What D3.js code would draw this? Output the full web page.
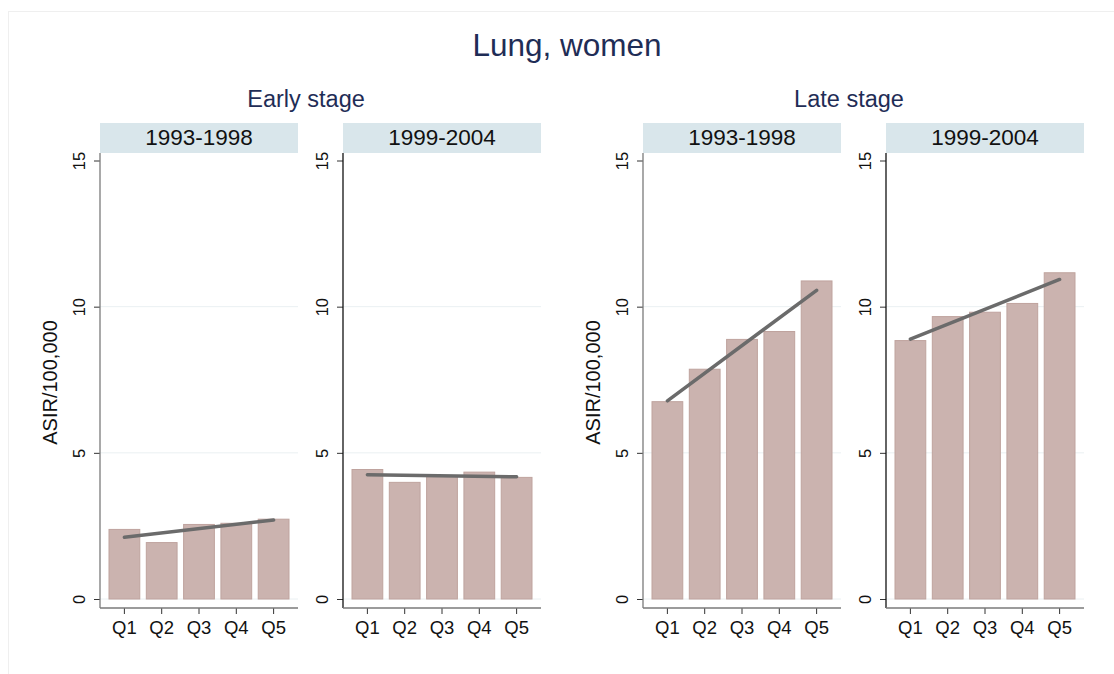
<!DOCTYPE html>
<html>
<head>
<meta charset="utf-8">
<script src="https://cdn.jsdelivr.net/npm/d3@7"></script>
<style>
  body { margin: 0; background: #fff; }
  svg text { font-family: "Liberation Sans", Arial, sans-serif; }
</style>
</head>
<body>
<div class="canvas"></div>
<script>
// data
const quintiles = ['Q1', 'Q2', 'Q3', 'Q4', 'Q5'];
const stages = ['Early stage', 'Late stage'];
const periods = ['1993-1998', '1999-2004'];
const yTicks = [0, 5, 10, 15];

const early9398 = [2.38, 1.93, 2.55, 2.59, 2.73];
const early9904 = [4.43, 3.99, 4.21, 4.34, 4.16];
const late9398 = [6.75, 7.86, 8.88, 9.15, 10.88];
const late9904 = [8.84, 9.66, 9.81, 10.11, 11.16];

// fitted trend, value at Q1 and at Q5
const trendEarly9398 = [2.11, 2.70];
const trendEarly9904 = [4.25, 4.18];
const trendLate9398 = [6.78, 10.56];
const trendLate9904 = [8.89, 10.93];

const panels = [
  { stage: 0, period: 0, values: early9398, trend: trendEarly9398 },
  { stage: 0, period: 1, values: early9904, trend: trendEarly9904 },
  { stage: 1, period: 0, values: late9398, trend: trendLate9398 },
  { stage: 1, period: 1, values: late9904, trend: trendLate9904 },
];

const width = 1114;
const height = 674;

const svg = d3.select('.canvas')
  .append('svg')
  .attr('width', width)
  .attr('height', height);

// faint outer frame
svg.append('rect')
  .attr('x', 8.5)
  .attr('y', 11.5)
  .attr('width', width)
  .attr('height', height)
  .attr('fill', 'none')
  .attr('stroke', '#efefef');

// main title
svg.append('text')
  .attr('x', 567)
  .attr('y', 56)
  .attr('text-anchor', 'middle')
  .attr('font-size', 31.5)
  .attr('fill', '#1f2d56')
  .text('Lung, women');

// stage titles
const stageCenters = [306, 849];
stages.forEach((s, i) => {
  svg.append('text')
    .attr('x', stageCenters[i])
    .attr('y', 107)
    .attr('text-anchor', 'middle')
    .attr('font-size', 23.5)
    .attr('fill', '#1f2d56')
    .text(s);
});

// panel geometry
const panelLeft = [100, 343, 643, 886];
const panelWidth = 198;
const plotTop = 153;
const plotBottom = 608;
const headerHeight = 30;

const y = d3.scaleLinear()
  .domain([0, 15])
  .range([599, 160.5]);

panels.forEach((p, i) => {
  const x0 = panelLeft[i];
  const g = svg.append('g').attr('transform', `translate(${x0}, 0)`);

  const x = d3.scaleBand()
    .domain(quintiles)
    .range([9, 189])
    .paddingInner(0.175)
    .paddingOuter(0);

  // header strip
  g.append('rect')
    .attr('x', 0)
    .attr('y', plotTop - headerHeight)
    .attr('width', panelWidth)
    .attr('height', headerHeight)
    .attr('fill', '#d9e6eb');

  g.append('text')
    .attr('x', panelWidth / 2)
    .attr('y', 144.5)
    .attr('text-anchor', 'middle')
    .attr('font-size', 22.5)
    .attr('fill', '#111')
    .text(periods[p.period]);

  // gridlines
  g.selectAll('line.grid')
    .data(yTicks.filter(t => t < 15))
    .enter()
    .append('line')
    .attr('class', 'grid')
    .attr('x1', 0)
    .attr('x2', panelWidth)
    .attr('y1', d => y(d))
    .attr('y2', d => y(d))
    .attr('stroke', '#eaf0f2')
    .attr('stroke-width', 1);

  // bars
  g.selectAll('rect.bar')
    .data(p.values)
    .enter()
    .append('rect')
    .attr('class', 'bar')
    .attr('x', (d, j) => x(quintiles[j]))
    .attr('width', x.bandwidth())
    .attr('y', d => y(d))
    .attr('height', d => y(0) - y(d))
    .attr('fill', '#cbb3af')
    .attr('stroke', '#bfa39e')
    .attr('stroke-width', 1);

  // trend line
  const ends = [quintiles[0], quintiles[quintiles.length - 1]];
  g.append('path')
    .datum(p.trend)
    .attr('d', d3.line()
      .x((d, j) => x(ends[j]) + x.bandwidth() / 2)
      .y(d => y(d)))
    .attr('fill', 'none')
    .attr('stroke', '#6b6b6b')
    .attr('stroke-width', 3.5)
    .attr('stroke-linecap', 'round');

  // y axis
  const yAxisGroup = g.append('g');
  yAxisGroup.call(d3.axisLeft(y).tickValues(yTicks).tickSize(6).tickSizeOuter(0));
  yAxisGroup.select('.domain').remove();
  yAxisGroup.selectAll('.tick line').attr('stroke', '#333');
  yAxisGroup.selectAll('text')
    .attr('x', 0)
    .attr('y', 0)
    .attr('dy', null)
    .attr('transform', 'translate(-15, 0) rotate(-90)')
    .attr('text-anchor', 'middle')
    .attr('font-size', 16.5)
    .attr('font-family', '"Liberation Sans", Arial, sans-serif')
    .attr('fill', '#111');

  g.append('line')
    .attr('x1', 0).attr('x2', 0)
    .attr('y1', plotTop).attr('y2', plotBottom)
    .attr('stroke', p.period === 0 ? '#7a7a7a' : '#111')
    .attr('stroke-width', 1.3);

  // x axis
  const xAxisGroup = g.append('g').attr('transform', `translate(0, ${plotBottom})`);
  xAxisGroup.call(d3.axisBottom(x).tickSize(6).tickSizeOuter(0));
  xAxisGroup.select('.domain').remove();
  xAxisGroup.selectAll('.tick line').attr('stroke', '#333');
  xAxisGroup.selectAll('text')
    .attr('y', 13)
    .attr('font-size', 18.5)
    .attr('font-family', '"Liberation Sans", Arial, sans-serif')
    .attr('fill', '#111');

  g.append('line')
    .attr('x1', 0).attr('x2', panelWidth)
    .attr('y1', plotBottom).attr('y2', plotBottom)
    .attr('stroke', '#7a7a7a')
    .attr('stroke-width', 1.3);

  // axis title only on the first panel of each stage
  if (p.period === 0) {
    g.append('text')
      .attr('transform', `translate(-43, ${(plotTop + plotBottom) / 2 + 2}) rotate(-90)`)
      .attr('text-anchor', 'middle')
      .attr('font-size', 20)
      .attr('fill', '#111')
      .text('ASIR/100,000');
  }
});
</script>
</body>
</html>
